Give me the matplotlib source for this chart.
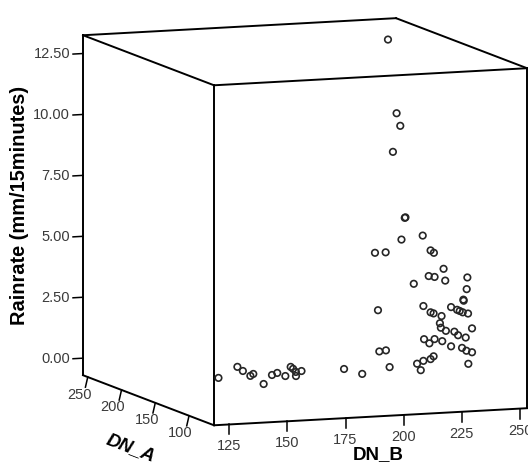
import numpy as np
import matplotlib
matplotlib.use('Agg')
import matplotlib.pyplot as plt
from mpl_toolkits.mplot3d import Axes3D, proj3d

plt.rcParams['font.family'] = ['Liberation Sans', 'DejaVu Sans']

# data (DN_B, DN_A, rain rate)
dn_b = [233, 228, 229, 227, 226, 226, 224, 234, 219, 223,
        231, 233, 236, 236, 233, 237, 241, 229, 241, 239,
        240, 220, 234, 231, 232, 236, 234, 236, 238, 239,
        241, 235, 236, 237, 243, 236, 237, 240, 234, 236,
        233, 236, 234, 239, 240, 243, 242, 220, 224, 225,
        206, 208, 231, 232, 234, 231, 232,
        150, 168, 166, 164, 167, 161, 173, 177, 177, 188,
        187, 181, 185, 188]
dn_a = [200, 170, 168, 172, 150, 151, 149, 152, 171, 169,
        130, 132, 128, 150, 131, 129, 110, 148, 111, 109,
        112, 170, 151, 130, 129, 131, 110, 108, 111, 110,
        109, 130, 132, 128, 110, 112, 110, 109, 150, 149,
        131, 130, 110, 111, 108, 110, 112, 168, 172, 170,
        172, 152, 150, 148, 151, 130, 129,
        165, 199, 184, 166, 172, 136, 165, 171, 159, 189,
        182, 157, 171, 173]
rain = [13.08, 10.40, 9.90, 8.80, 6.35, 6.32, 5.46, 5.54, 4.71, 4.73,
        5.18, 5.05, 4.42, 3.89, 4.07, 3.92, 4.23, 3.63, 3.74, 3.34,
        3.26, 2.36, 2.66, 2.64, 2.60, 2.45, 3.05, 2.95, 2.86, 2.81,
        2.76, 2.17, 1.96, 1.87, 2.13, 2.01, 1.88, 1.78, 1.31, 1.14,
        1.52, 1.43, 1.44, 1.34, 1.25, 1.15, 0.66, 0.69, 0.67, 0.00,
        0.00, 0.00, 0.32, 0.07, 0.41, 0.72, 0.84,
        0.0, 0.0, 0.0, 0.0, 0.0, 0.0, 0.0, 0.0, 0.0, 0.0,
        0.0, 0.0, 0.0, 0.0]

b_ticks = [125, 150, 175, 200, 225, 250]
a_ticks = [100, 150, 200, 250]
r_ticks = [0.0, 2.5, 5.0, 7.5, 10.0, 12.5]

b_lim = (118.5, 253)
a_lim = (63, 257)
r_lim = (-0.7, 13.25)

fig = plt.figure(figsize=(5.28, 4.69), dpi=100)
ax = fig.add_axes([0.07197, -0.04211, 0.98485, 1.10874], projection='3d')
ax.set_proj_type('ortho')
ax.view_init(elev=8.3, azim=-110.7)
ax.set_box_aspect((334.6, 370.6, 343.6), zoom=1.1315)
ax.set_xlim(*b_lim)
ax.set_ylim(*a_lim)
ax.set_zlim(*r_lim)
ax.set_axis_off()
ax.computed_zorder = False

b0, b1 = b_lim
a0, a1 = a_lim
r0, r1 = r_lim
lw = 1.4
# box edges (the ones meeting at the hidden back-bottom corner are left out)
edges = [
    ((b0, b1), (a0, a0), (r1, r1)),
    ((b0, b1), (a1, a1), (r1, r1)),
    ((b0, b0), (a0, a1), (r1, r1)),
    ((b1, b1), (a0, a1), (r1, r1)),
    ((b0, b0), (a0, a0), (r0, r1)),
    ((b0, b0), (a1, a1), (r0, r1)),
    ((b1, b1), (a0, a0), (r0, r1)),
    ((b0, b1), (a0, a0), (r0, r0)),
    ((b0, b0), (a0, a1), (r0, r0)),
]
for xs, ys, zs in edges:
    ax.plot(xs, ys, zs, color='black', lw=lw, zorder=1)

proj = ax.get_proj()
tick_col = '#3a3a3a'


def label3d(x, y, z, s, **kw):
    # put a tick label at a 3D point, drawn as plain 2D text
    px, py, _ = proj3d.proj_transform(x, y, z, proj)
    ax.text2D(px, py, s, transform=ax.transData, fontsize=10.5,
              color=tick_col, **kw)


# rain ticks on the back-left edge
for r in r_ticks:
    ax.plot((b0, b0 - 4.3), (a1, a1), (r, r), color='black', lw=1.1, zorder=1)
    label3d(b0 - 5.6, a1, r, '%.2f' % r, ha='right', va='center')
# DN_A ticks
for a in a_ticks:
    ax.plot((b0, b0 - 1), (a, a), (r0, r0 - 0.41), color='black', lw=1.1, zorder=1)
    label3d(b0 - 3.7, a, r0 - 0.70, str(a), ha='center', va='center')
# DN_B ticks
for b in b_ticks:
    ax.plot((b, b), (a0, a0), (r0, r0 - 0.41), color='black', lw=1.1, zorder=1)
    label3d(b, a0, r0 - 0.9, str(b), ha='center', va='center')

ax.scatter(dn_b, dn_a, rain, s=22, facecolors='none', edgecolors='#262626',
           linewidths=1.2, depthshade=False, zorder=2)

fig.text(20 / 528, 1 - 205.5 / 469, 'Rainrate (mm/15minutes)', rotation=90,
         ha='center', va='center', fontsize=14.4, fontweight='bold')
fig.text(131 / 528, 1 - 448 / 469, 'DN_A', rotation=-21, ha='center',
         va='center', fontsize=13.5, fontweight='bold', fontstyle='italic')
fig.text(378 / 528, 1 - 455 / 469, 'DN_B', ha='center', va='center',
         fontsize=13.5, fontweight='bold')

fig.savefig('out.png', dpi=100)
